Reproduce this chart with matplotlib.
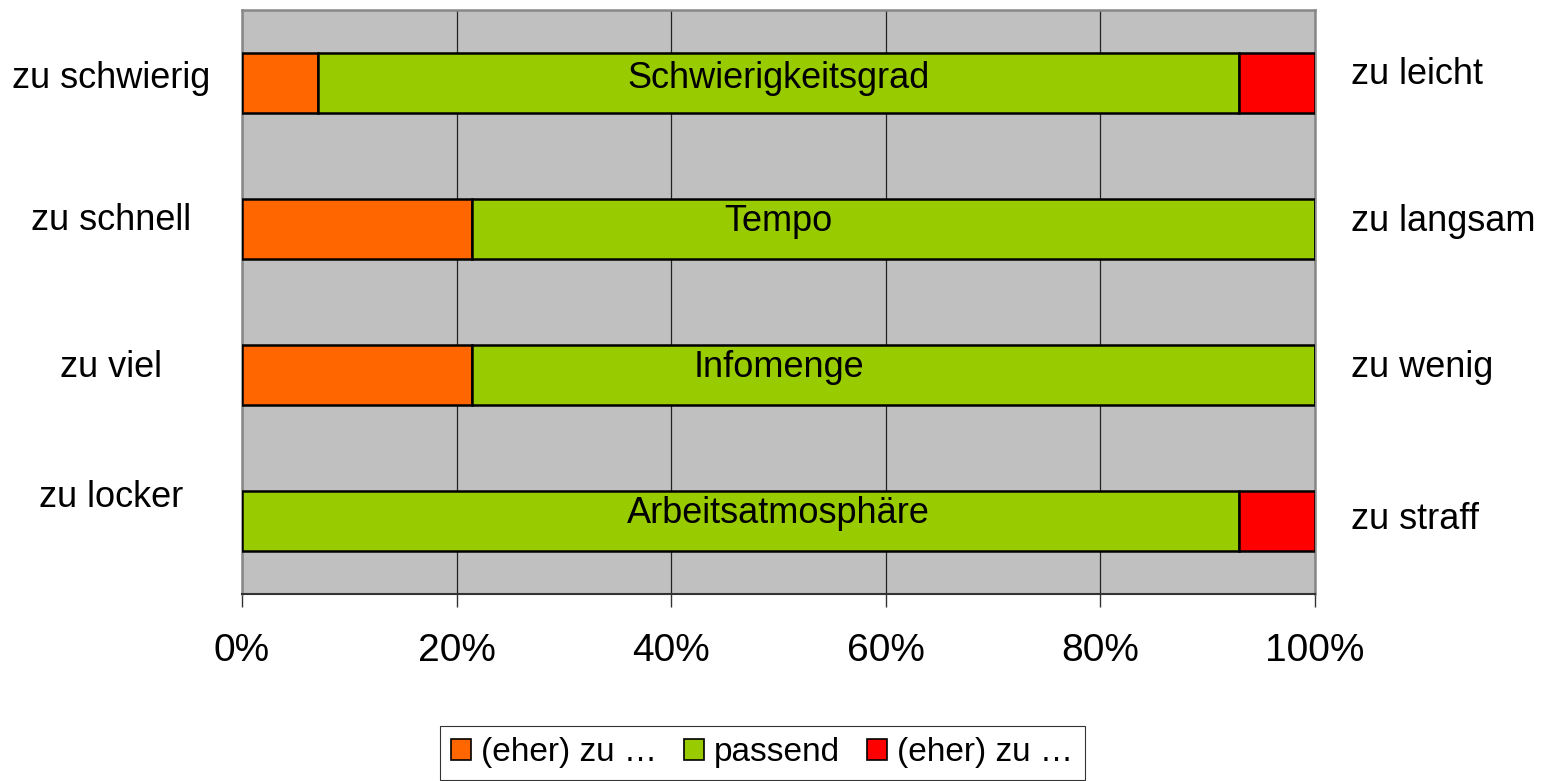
import numpy as np
import matplotlib.pyplot as plt
from matplotlib.patches import Patch

plt.rcParams['font.family'] = ['Liberation Sans', 'DejaVu Sans']

# Daten (Anteile in %)
kategorien = ['Schwierigkeitsgrad', 'Tempo', 'Infomenge', 'Arbeitsatmosphäre']
links = ['zu schwierig', 'zu schnell', 'zu viel', 'zu locker']
rechts = ['zu leicht', 'zu langsam', 'zu wenig', 'zu straff']
zu_viel = [7.1, 21.4, 21.4, 0.0]
passend = [85.8, 78.6, 78.6, 92.9]
zu_wenig = [7.1, 0.0, 0.0, 7.1]
legende = ['(eher) zu …', 'passend', '(eher) zu …']
farben = ['#FF6600', '#99CC00', '#FF0000']

fig = plt.figure(figsize=(15.52, 7.81), dpi=100)
ax = fig.add_axes([0.1559, 0.2394, 0.6914, 0.7478])
ax.set_facecolor('#C0C0C0')

y = np.arange(len(kategorien))
hoehe = 0.41
links_start = np.zeros(len(kategorien))
for werte, farbe in zip([zu_viel, passend, zu_wenig], farben):
    ax.barh(y, werte, left=links_start, height=hoehe, color=farbe,
            edgecolor='black', linewidth=1.8, zorder=3)
    links_start = links_start + np.array(werte)

mitte_y = [-0.03, -0.05, -0.05, -0.05]
for i, name in enumerate(kategorien):
    ax.text(50, i + mitte_y[i], name, ha='center', va='center', fontsize=26, zorder=4)

ax.set_xlim(0, 100)
ax.set_ylim(-0.5, len(kategorien) - 0.5)
ax.invert_yaxis()
ax.set_yticks([])
ax.set_xticks(np.arange(0, 101, 20))
ax.set_xticklabels([f'{v}%' for v in range(0, 101, 20)], fontsize=28)
ax.tick_params(axis='x', length=9, width=1, color='#333333', pad=19)
ax.grid(axis='x', color='#222222', linewidth=0.9, zorder=1)
ax.set_axisbelow(True)
for s in ['top', 'left', 'right']:
    ax.spines[s].set_color('#888888')
    ax.spines[s].set_linewidth(1.8)
ax.spines['bottom'].set_color('#333333')
ax.spines['bottom'].set_linewidth(1.5)

# Beschriftungen links und rechts
links_y = [-0.03, -0.06, -0.05, -0.16]
rechts_y = [-0.06, -0.05, -0.05, -0.01]
for i in range(len(kategorien)):
    ax.text(-12.2, i + links_y[i], links[i], ha='center', va='center',
            fontsize=26, clip_on=False)
    ax.text(103.4, i + rechts_y[i], rechts[i], ha='left', va='center',
            fontsize=26, clip_on=False)

handles = [Patch(facecolor=f, edgecolor='black', linewidth=1.2) for f in farben]
leg = fig.legend(handles, legende, loc='center', bbox_to_anchor=(0.491, 0.036),
                 ncol=3, fontsize=24, frameon=True, fancybox=False,
                 handlelength=0.6, handleheight=0.6, handletextpad=0.3,
                 columnspacing=0.8, borderpad=0.35)
leg.get_frame().set_edgecolor('black')
leg.get_frame().set_linewidth(0.8)

fig.savefig('out.png', dpi=100)
